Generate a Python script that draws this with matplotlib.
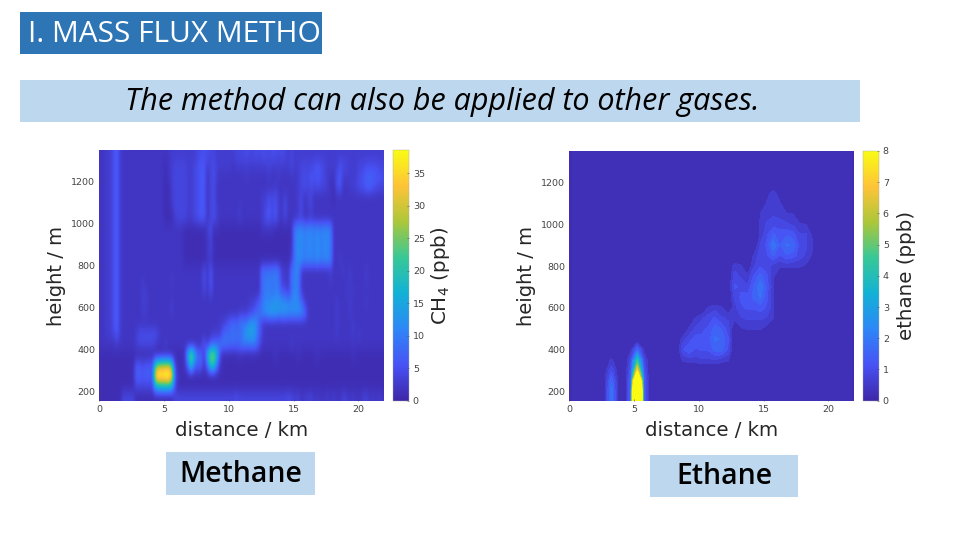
import numpy as np
import matplotlib
matplotlib.use("Agg")
import matplotlib.pyplot as plt
from matplotlib.colors import LinearSegmentedColormap, Normalize
from matplotlib.cm import ScalarMappable
from matplotlib.patches import Rectangle

W, H = 960, 540
title_text = "I. MASS FLUX METHOD"
subtitle_text = "The method can also be applied to other gases."
x_ticks = [0, 5, 10, 15, 20]
y_ticks = [200, 400, 600, 800, 1000, 1200]
ch4_cbar_ticks = [0, 5, 10, 15, 20, 25, 30, 35]
c2h6_cbar_ticks = [0, 1, 2, 3, 4, 5, 6, 7, 8]
distance_km = [0.25 + 0.5 * i for i in range(44)]

# one character per 0.25 km cell, ppb: 0-9, a=10 ... z=35, A=36 ...
ALPHABET = "0123456789abcdefghijklmnopqrstuvwxyzABCDEFGHIJ"
methane_heights = [1325, 1275, 1225, 1175, 1125, 1075, 1025, 975, 925, 875, 825, 775,
                   725, 675, 625, 575, 525, 475, 425, 375, 325, 275, 225, 175]
methane_rows = [
 "2233573222 2222222222 2233333333 4555443333 3344454454 5545545434 3333333333 3333333333 33333333",
 "2233573222 2222222222 1234444334 5663453333 3233333333 3343333334 3344445654 3333644333 44555544",
 "2233573222 2222222222 1234444334 5662453222 2222232222 2232232223 2345465654 3225633333 55777665",
 "2233573222 2222222222 1134444334 5662452222 2222222222 2222322222 2345454544 3215622334 55776544",
 "2233573222 2222222222 1134444334 5662452222 2222222222 3354532422 2342342222 2212222222 22222222",
 "2233573222 2222222222 1124444334 5662453222 2223222222 3464632522 2352342222 2222222222 22222222",
 "2233573222 2222222222 1113444334 5662453222 2223222222 3564632422 2342232222 2222222222 22222222",
 "2233573222 2222222222 2222221111 1113512111 1111111111 2222111112 abbabbabab ba22222222 22222222",
 "2233573222 2222222222 2222221111 1112411111 1111111111 1111111111 abcabbacab ba22222222 22222222",
 "2233573222 2222222222 2222221111 1112411111 1111111111 1111111112 acbabbacab ba22222222 22222222",
 "2233573222 2222222222 2222221111 1112311111 1111111111 1111111113 abcabbacab ba22322222 22222222",
 "2233573222 2222222222 2222222222 2252622222 2222222222 9899a83329 ab32222222 2322232322 22322222",
 "2233573222 2223222222 2232222222 2252622222 2222222222 99a9a93329 ab32222222 2322222322 22322222",
 "2233573222 2223322222 2222222222 2242522222 2222222222 9aa9aa6639 ba32222222 2222223232 22222222",
 "2233573222 2223322222 2232222222 2222222222 2222223347 9bbcddccbb cb93222222 2223222322 22322222",
 "2233573222 2223322222 2232222222 2222222222 2223334588 bceeecddcc ccb9322222 2223222322 22222222",
 "2233573222 2222222222 2222222222 2222222335 7879a9ddc7 3222222222 2222222222 2223222232 22222222",
 "2233463222 2355555532 2222222222 2222233388 8988aeffb7 3222222222 2222222222 2223222232 32222222",
 "2222232222 2344444322 3222222222 2272788a99 8888a99a95 2222222223 2222222222 2222222222 22222222",
 "1111111111 1111111111 1111112 hrh 882hqqh311 1112111111 1111211111 1211111211 1111111121 11111111",
 "1111111111 1665666mqr ssm31128k8 7728kk8211 1111111111 1111111111 1111111111 1111111111 11111111",
 "1111111111 1776776AGE GGA6211111 1111111111 1111111111 1111111111 1111111111 1111111111 11111111",
 "1111111111 1444444ghi iig4111111 1111111111 1111111111 1111111111 1111111111 1111111111 11111111",
 "1111111444 4111111111 1114444444 4444444444 4454444444 4444444454 3423342322 3232243232 23423232",
]
methane_ppb = [[ALPHABET.index(c) for c in row.replace(" ", "")] for row in methane_rows]

ethane_heights = [1350, 1300, 1250, 1200, 1150, 1100, 1050, 1000, 950, 900, 850, 800, 750, 700,
                  650, 600, 550, 500, 450, 400, 350, 300, 250, 200, 150]
ethane_ppb = [
 [0]*44, [0]*44, [0]*44, [0]*44,
 [0]*30 + [.3,.6,.2] + [0]*11,
 [0]*30 + [.5,.7,.5] + [0]*11,
 [0]*29 + [.45,.6,.7,.6,.5,.45] + [0]*9,
 [0]*29 + [.5,.8,.9,.9,.8,.7,.5,.45] + [0]*7,
 [0]*29 + [.5,1.0,1.4,1.2,1.3,1.2,.8,.8,.4] + [0]*6,
 [0]*29 + [.8,1.1,1.9,1.3,1.7,1.6,1.0,.8,.5] + [0]*6,
 [0]*28 + [.5,.9,1.0,1.4,1.0,1.3,1.2,.9,.7,.4] + [0]*6,
 [0]*25 + [.6,.5,.1,.7,1.0,.9,.6,.5,.55,.5,.5,.4] + [0]*7,
 [0]*25 + [.9,.7,.5,1.1,1.5,1.1,.5] + [0]*12,
 [0]*25 + [1.1,1.0,.8,1.4,1.9,1.2,.5] + [0]*12,
 [0]*25 + [.8,1.1,1.2,1.4,1.7,1.1,.5] + [0]*12,
 [0]*21 + [.5,.6,.5,.1,.6,1.0,1.1,1.1,1.2,1.0,.5] + [0]*12,
 [0]*19 + [.5,.7,.9,1.1,.8,.7,.5,.7,.8,.8,.8,.7,.45] + [0]*12,
 [0]*18 + [.5,.8,1.0,1.1,1.5,1.3,.9,.1,.4,.5,.5,.5,.3] + [0]*13,
 [0]*17 + [.6,.9,1.2,1.1,1.2,1.7,1.6,1.1] + [0]*19,
 [0]*9 + [.4,1.5,.4] + [0]*5 + [1.0,1.3,1.0,1.1,1.1,1.5,1.5,1.0] + [0]*19,
 [0]*5 + [.2,.5,.2,0,.9,4,.9] + [0]*5 + [.5,.6,.6,.7,.7,.7,.6,.5] + [0]*19,
 [0]*5 + [.3,1.0,.3,0,1.2,7,1.2] + [0]*32,
 [0]*5 + [.4,1.6,.4,0,1.5,16,1.5] + [0]*32,
 [0]*5 + [.4,1.9,.4,0,1.5,24,1.5] + [0]*32,
 [0]*5 + [.4,1.9,.4,0,1.5,24,1.5] + [0]*32,
]

parula = LinearSegmentedColormap.from_list("parula", [
    (0.2422, 0.1504, 0.6603), (0.2810, 0.3228, 0.9579), (0.1786, 0.5289, 0.9682),
    (0.0689, 0.6948, 0.8394), (0.2161, 0.7843, 0.5923), (0.6720, 0.7793, 0.2227),
    (0.9970, 0.7659, 0.2199), (0.9769, 0.9839, 0.0805)])

fig = plt.figure(figsize=(W / 100, H / 100), dpi=100, facecolor="white")


def px_axes(x0, y0, x1, y1, **kw):
    return fig.add_axes([x0 / W, 1 - y1 / H, (x1 - x0) / W, (y1 - y0) / H], **kw)


bg = fig.add_axes([0, 0, 1, 1])
bg.set_xlim(0, W)
bg.set_ylim(H, 0)
bg.axis("off")


def box(x0, y0, x1, y1, color):
    r = Rectangle((x0, y0), x1 - x0, y1 - y0, facecolor=color, edgecolor="none")
    bg.add_patch(r)
    return r


tb = box(20, 12, 322, 54, "#2E75B6")
t = bg.text(28, 34, title_text, color="white", family="Open Sans", fontsize=21.5, va="center", ha="left")
t.set_clip_path(tb)
box(20, 80, 860, 122, "#BDD7EE")
bg.text(125, 102, subtitle_text, color="black", family="Open Sans", style="italic", fontsize=22,
        va="center", ha="left")
box(166, 452, 315, 495, "#BDD7EE")
bg.text(240.5, 474, "Methane", color="black", family="Open Sans", weight="semibold", fontsize=20.5,
        va="center", ha="center")
box(650, 455, 798, 497, "#BDD7EE")
bg.text(724, 477, "Ethane", color="black", family="Open Sans", weight="semibold", fontsize=20.5,
        va="center", ha="center")


def style_axes(ax):
    ax.set_xlim(0, 22)
    ax.set_ylim(155, 1351)
    ax.set_xticks(x_ticks)
    ax.set_yticks(y_ticks)
    ax.tick_params(labelsize=6.8, length=1.5, width=0.4, direction="in", colors="#444444", pad=3)
    ax.set_xlabel("distance / km", fontsize=14.2, color="#262626", labelpad=5)
    ax.set_ylabel("height / m", fontsize=14, color="#262626", labelpad=4)
    for s in ax.spines.values():
        s.set_visible(False)


def style_cbar(cax, sm, ticks, label, pad):
    cb = fig.colorbar(sm, cax=cax)
    cb.set_ticks(ticks)
    cb.ax.tick_params(labelsize=6.8, length=1.5, width=0.4, direction="in", colors="#444444", pad=3)
    cb.outline.set_linewidth(0.3)
    cb.outline.set_edgecolor("#aaaaaa")
    cb.set_label(label, fontsize=14.3, color="#262626", labelpad=pad)


# Methane
ax1 = px_axes(99.3, 150, 384.3, 401)
norm1 = Normalize(0, 38.6)
ax1.imshow(np.array(methane_ppb, dtype=float), extent=(0, 22, 150, 1350), origin="upper", aspect="auto",
           cmap=parula, norm=norm1, interpolation="bicubic")
style_axes(ax1)
cax1 = px_axes(392.7, 150, 408.7, 401)
style_cbar(cax1, ScalarMappable(norm=norm1, cmap=parula), ch4_cbar_ticks, r"CH$_4$ (ppb)", 3)

# Ethane
ax2 = px_axes(569.3, 151, 854.3, 400.7)
norm2 = Normalize(0, 8)
levels = [0, .45, .75, 1.05, 1.35, 1.65, 2, 2.5, 3, 3.5, 4, 4.5, 5, 5.5, 6, 6.5, 7, 7.5, 8]
ax2.set_facecolor(parula(0.02))
ax2.contourf(distance_km, ethane_heights, np.array(ethane_ppb, dtype=float), levels=levels,
             cmap=parula, norm=norm2, extend="max")
style_axes(ax2)
cax2 = px_axes(862.7, 151, 878.7, 400.7)
style_cbar(cax2, ScalarMappable(norm=norm2, cmap=parula), c2h6_cbar_ticks, "ethane (ppb)", 6)

fig.savefig("out.png", dpi=100)
